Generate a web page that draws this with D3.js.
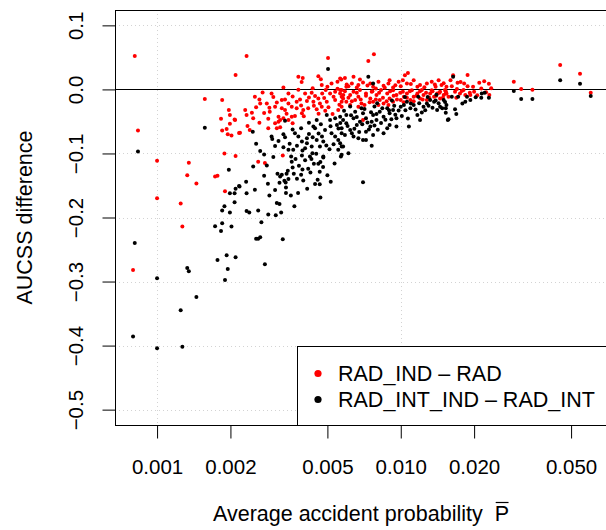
<!DOCTYPE html>
<html>
<head>
<meta charset="utf-8">
<script src="https://cdn.jsdelivr.net/npm/d3@7"></script>
<style>
  body { margin: 0; background: #fff; }
  svg { display: block; font-family: "Liberation Sans", Arial, sans-serif; }
</style>
</head>
<body>
<div id="chart"></div>
<script>
// average accident probability (x) and AUCSS difference (y)
var redPoints = [
  [0.81e-3,0.052],[2.1e-3,0.0227],[1.57e-3,-0.015],[1.85e-3,-0.0166],[1.97e-3,-0.032],[1.99e-3,-0.040],[1.83e-3,-0.046],[2.08e-3,-0.047],
  [1.99e-3,-0.0535],[1.85e-3,-0.064],[1.93e-3,-0.062],[1.95e-3,-0.070],[2.02e-3,-0.072],[2.17e-3,-0.068],[0.835e-3,-0.064],[1.89e-3,-0.10],
  [2.1e-3,-0.104],[1.0e-3,-0.1115],[1.35e-3,-0.1146],[1.33e-3,-0.134],[1.73e-3,-0.136],[1.77e-3,-0.135],[1.45e-3,-0.147],[1.9e-3,-0.159],
  [1.0e-3,-0.170],[1.25e-3,-0.178],[1.27e-3,-0.214],[0.797e-3,-0.282],
  [2.33e-3,0.052],[5.03e-3,0.049],[3.8e-3,0.0196],[3.96e-3,0.018],[3.92e-3,0.0114],[4.59e-3,0.0207],[4.7e-3,0.016],[4.74e-3,0.007],
  [5.2e-3,0.0093],[5.5e-3,0.0118],[5.7e-3,0.0156],
  [2.71e-3,-0.0047],[2.95e-3,-0.0062],[3.46e-3,-0.0062],[2.52e-3,-0.0115],[2.63e-3,-0.0156],[2.65e-3,-0.0218],[2.82e-3,-0.0218],[2.89e-3,-0.0286],
  [3.05e-3,-0.027],[3.25e-3,-0.0166],[3.35e-3,-0.0156],[3.46e-3,-0.0218],[3.74e-3,-0.0193],[3.86e-3,-0.0156],[4.05e-3,-0.0062],[4.31e-3,-0.0053],
  [4.45e-3,-0.0104],[4.59e-3,-0.014],[4.76e-3,-0.0062],[4.92e-3,-0.001],[5.13e-3,-0.0062],[5.38e-3,-0.0037],[5.64e-3,-0.001],[5.81e-3,-0.0089],
  [4.12e-3,-0.018],[4.38e-3,-0.0193],[4.66e-3,-0.0218],[4.97e-3,-0.0193],[5.38e-3,-0.0166],[5.72e-3,-0.0193],[3.25e-3,-0.0296],[3.35e-3,-0.0322],
  [3.57e-3,-0.027],[3.74e-3,-0.0296],[3.98e-3,-0.0322],[4.17e-3,-0.0296],[4.52e-3,-0.0311],[4.74e-3,-0.027],[2.3e-3,-0.0322],[2.45e-3,-0.0364],
  [2.33e-3,-0.040],[2.48e-3,-0.045],[2.86e-3,-0.046],[3.15e-3,-0.0426],[3.2e-3,-0.0477],[3.3e-3,-0.045],[3.46e-3,-0.0477],[3.57e-3,-0.0426],
  [3.68e-3,-0.0415],[3.93e-3,-0.0373],[2.86e-3,-0.0607],[3.05e-3,-0.0529],[3.1e-3,-0.0607],[3.2e-3,-0.059],[3.15e-3,-0.0504],[2.4e-3,-0.0633],
  [2.19e-3,-0.0675],[2.63e-3,-0.052],[2.09e-3,-0.0477],[5.54e-3,-0.0322],[5.72e-3,-0.027],[3.28e-3,-0.103],[2.6e-3,-0.113],[2.77e-3,-0.115],
  [7.36e-3,0.0445],[7.76e-3,0.0549],[5.64e-3,0.0171],[5.9e-3,0.018],[6.4e-3,0.0196],[6.8e-3,0.0156],[6.3e-3,0.0093],[6.1e-3,0.0051],
  [7.0e-3,0.0109],[6.7e-3,0.0067],[7.5e-3,0.0093],[8.1e-3,0.0118],[9.0e-3,0.0145],[8.9e-3,0.0093],[8.5e-3,0.0056],[9.8e-3,0.0118],
  [10.4e-3,0.0222],[10.7e-3,0.0258],[10.2e-3,0.0145],[10.6e-3,0.0093],[11.3e-3,0.0145],[12.0e-3,0.0067],[12.8e-3,0.0093],[13.4e-3,0.0118],
  [14.3e-3,0.0145],[14.7e-3,0.0067],[15.4e-3,0.004],
  [5.64e-3,-0.0062],[5.8e-3,-0.014],[5.98e-3,-0.0193],[6.2e-3,-0.0089],[6.5e-3,-0.0166],[6.7e-3,-0.0115],[6.9e-3,-0.0218],[7.2e-3,-0.0062],
  [7.5e-3,-0.014],[7.7e-3,-0.0193],[7.95e-3,-0.0089],[8.2e-3,-0.0166],[8.5e-3,-0.0218],[8.8e-3,-0.0062],[9.0e-3,-0.014],[9.3e-3,-0.0193],
  [9.6e-3,-0.0089],[10e-3,-0.0166],[10.3e-3,-0.0115],[10.6e-3,-0.0062],[10.95e-3,-0.0166],[11.3e-3,-0.0115],[11.7e-3,-0.0062],[12e-3,-0.014],
  [12.4e-3,-0.0089],[12.8e-3,-0.0166],[13.2e-3,-0.0062],[13.7e-3,-0.0115],[14.1e-3,-0.0062],[14.5e-3,-0.014],[15e-3,-0.0089],[15.4e-3,-0.0062],
  [7.1e-3,-0.0244],[8.1e-3,-0.0244],[8.9e-3,-0.0244],[6.7e-3,-0.027],[6.2e-3,-0.0244],[7.0e-3,-0.0477],
  [5.72e-3,-0.001],[6.4e-3,-0.0037],[6.8e-3,-0.001],[7.6e-3,-0.0037],[8.3e-3,-0.001],[9.3e-3,-0.0015],[10.2e-3,-0.0037],[11.1e-3,-0.0015],
  [12.2e-3,-0.001],[13.4e-3,-0.0015],[14.5e-3,-0.0037],[5.98e-3,0.004],[6.6e-3,0.003],[7.7e-3,0.004],[9.3e-3,0.003],[11.7e-3,0.004],[13.9e-3,0.004],
  [45.1e-3,0.0383],[54.4e-3,0.0243],[60.2e-3,-0.0053],[29.1e-3,0.0118],[31.2e-3,0.0005],[34.7e-3,-0.0006],
  [16.4e-3,0.0222],[18.8e-3,0.0227],[22.0e-3,0.0129],[23.0e-3,0.0087],[16.2e-3,0.0051],[17.1e-3,0.0103],[17.6e-3,0.0114],[18.2e-3,0.0093],
  [18.8e-3,0.0051],[21.4e-3,0.0016],[16.7e-3,-0.0037],[17.5e-3,-0.0062],[18.1e-3,-0.001],[19.2e-3,-0.0053],[20.0e-3,-0.0037],[15.3e-3,-0.0062],
  [15.7e-3,-0.0115],[16.9e-3,-0.013],[23.1e-3,-0.0089],[15.2e-3,-0.001],[18.4e-3,-0.0089],[19.3e-3,-0.0089],
  [5.72e-3,-0.0115],[5.9e-3,-0.0028],[6.1e-3,-0.0132],[6.3e-3,-0.0183],[6.6e-3,-0.0053],[6.85e-3,-0.0157],[7.2e-3,-0.0098],[7.45e-3,-0.0201],
  [7.65e-3,-0.0028],[7.9e-3,-0.0157],[8.15e-3,-0.0053],[8.45e-3,-0.0132],[8.75e-3,-0.0183],[9.05e-3,-0.0028],[9.35e-3,-0.0098],[9.65e-3,-0.0157],
  [9.95e-3,-0.0053],[10.3e-3,-0.0201],[10.6e-3,-0.0132],[10.9e-3,-0.0028],[11.3e-3,-0.0183],[11.6e-3,-0.0098],[12.0e-3,-0.0028],[12.3e-3,-0.0157],
  [12.7e-3,-0.0053],[13.1e-3,-0.0132],[13.5e-3,-0.0028],[14.0e-3,-0.0098],[14.4e-3,-0.0053],[14.9e-3,-0.0132],[15.3e-3,-0.0028],
  [6.0e-3,0.0075],[7.3e-3,0.006],[8.6e-3,0.0025],[10.0e-3,0.005],[11.0e-3,0.0085],[12.5e-3,0.0035],[13.8e-3,0.0075],[15.0e-3,0.0095],
  [9.5e-3,0.0065],[7.9e-3,0.0015],
  [3.0e-3,-0.012],[3.6e-3,-0.011],[4.2e-3,-0.0125],[4.85e-3,-0.0135],[5.3e-3,-0.0115],[3.1e-3,-0.0205],[3.9e-3,-0.025],[4.4e-3,-0.0255],
  [5.05e-3,-0.028],[5.6e-3,-0.024],[3.4e-3,-0.038],[4.0e-3,-0.042],[4.6e-3,-0.038],[2.75e-3,-0.037],[3.8e-3,-0.0005],[4.35e-3,0.002],
  [5.0e-3,0.004],[5.5e-3,0.001],[3.3e-3,0.003],[2.9e-3,-0.035],[2.55e-3,-0.028],[4.9e-3,-0.0335],[5.25e-3,-0.0385],[3.6e-3,-0.053],[2.35e-3,-0.057],
  [16.0e-3,0.0145],[17.8e-3,-0.0025],[19.8e-3,0.004],[21.0e-3,0.0105],[20.6e-3,-0.009],[22.4e-3,-0.0045],[17.0e-3,0.0005],[23.5e-3,0.002]
];

var blackPoints = [
  [1.57e-3,-0.060],[0.835e-3,-0.097],[1.97e-3,-0.1255],[2.17e-3,-0.151],[2.1e-3,-0.155],[1.99e-3,-0.162],[2.08e-3,-0.162],[2.08e-3,-0.176],
  [1.89e-3,-0.1826],[1.85e-3,-0.189],[1.99e-3,-0.192],[1.73e-3,-0.2136],[1.85e-3,-0.209],[2.02e-3,-0.214],[1.83e-3,-0.221],[0.81e-3,-0.240],
  [1.93e-3,-0.259],[1.77e-3,-0.2665],[2.1e-3,-0.262],[1.33e-3,-0.279],[1.35e-3,-0.284],[1.0e-3,-0.295],[1.95e-3,-0.2805],[1.9e-3,-0.2977],
  [1.45e-3,-0.324],[1.25e-3,-0.345],[0.797e-3,-0.386],[1.0e-3,-0.404],[1.27e-3,-0.402],
  [5.03e-3,0.032],[3.35e-3,-0.049],[2.47e-3,-0.066],[2.95e-3,-0.0737],[2.97e-3,-0.0773],[3.35e-3,-0.0746],[3.3e-3,-0.070],[3.68e-3,-0.0684],
  [3.8e-3,-0.0737],[3.93e-3,-0.0815],[4.12e-3,-0.0762],[4.45e-3,-0.0607],[4.52e-3,-0.0477],[4.89e-3,-0.0633],[4.97e-3,-0.040],[5.13e-3,-0.0477],
  [5.38e-3,-0.045],[5.47e-3,-0.0555],[5.2e-3,-0.0684],[5.38e-3,-0.0737],[5.54e-3,-0.0788],[5.72e-3,-0.0684],[4.81e-3,-0.0815],[4.66e-3,-0.0893],
  [4.52e-3,-0.0788],[4.31e-3,-0.0893],[4.05e-3,-0.0918],[3.62e-3,-0.0944],[3.46e-3,-0.0944],[2.65e-3,-0.096],[4.12e-3,-0.084],[4.24e-3,-0.1048],
  [4.81e-3,-0.1048],[5.54e-3,-0.0944],[5.72e-3,-0.0893],[4.38e-3,-0.058],
  [3.55e-3,-0.1048],[3.93e-3,-0.1033],[4.34e-3,-0.0995],[4.5e-3,-0.1006],[4.81e-3,-0.1064],[5.68e-3,-0.1048],[3.57e-3,-0.113],[2.48e-3,-0.1204],
  [2.82e-3,-0.1188],[3.6e-3,-0.1219],[3.82e-3,-0.1193],[4.4e-3,-0.1162],[4.59e-3,-0.1162],[4.68e-3,-0.1135],[3.12e-3,-0.1317],[3.25e-3,-0.1333],
  [3.2e-3,-0.136],[3.44e-3,-0.127],[3.4e-3,-0.1317],[3.64e-3,-0.1317],[3.9e-3,-0.1333],[4.17e-3,-0.124],[4.26e-3,-0.1297],[4.65e-3,-0.1286],
  [4.56e-3,-0.141],[4.45e-3,-0.1477],[4.65e-3,-0.148],[5.16e-3,-0.144],[3.46e-3,-0.14],[3.33e-3,-0.1426],[3.37e-3,-0.1452],[3.18e-3,-0.1457],
  [3.75e-3,-0.1395],[3.98e-3,-0.1421],[2.32e-3,-0.144],[2.18e-3,-0.1515],[2.85e-3,-0.1473],[2.52e-3,-0.1566],[4.13e-3,-0.155],[3.38e-3,-0.153],
  [3.54e-3,-0.1655],[3.79e-3,-0.1617],[3.38e-3,-0.1617],[2.33e-3,-0.1623],[2.89e-3,-0.1655],[4.68e-3,-0.1686],[3.1e-3,-0.1773],[3.18e-3,-0.1788],
  [3.66e-3,-0.1826],[2.33e-3,-0.19],[2.39e-3,-0.192],[2.6e-3,-0.189],[2.86e-3,-0.1955],[3.07e-3,-0.1966],[3.23e-3,-0.192],[2.68e-3,-0.2074],
  [2.55e-3,-0.233],[2.65e-3,-0.231],[2.6e-3,-0.233],[3.28e-3,-0.234],[2.77e-3,-0.273],
  [7.36e-3,0.0196],[7.7e-3,0.0093],[7.0e-3,-0.145],
  [5.64e-3,-0.0426],[5.8e-3,-0.0477],[5.98e-3,-0.040],[5.72e-3,-0.0607],[5.98e-3,-0.0529],[6.2e-3,-0.0633],[6.4e-3,-0.045],[6.6e-3,-0.0555],
  [6.5e-3,-0.0348],[6.8e-3,-0.0504],[7.0e-3,-0.0373],[7.2e-3,-0.045],[7.5e-3,-0.058],[7.7e-3,-0.040],[7.6e-3,-0.0504],[7.95e-3,-0.0477],
  [8.2e-3,-0.0348],[8.5e-3,-0.0426],[8.8e-3,-0.0296],[9.0e-3,-0.0373],[9.3e-3,-0.0322],[9.6e-3,-0.045],[10e-3,-0.027],[10.3e-3,-0.0244],
  [10.6e-3,-0.0193],[10.95e-3,-0.0296],[11.3e-3,-0.0244],[11.7e-3,-0.040],[12e-3,-0.0477],[12.4e-3,-0.027],[12.8e-3,-0.0218],[13.2e-3,-0.0166],
  [13.7e-3,-0.0193],[14.1e-3,-0.0322],[14.5e-3,-0.027],[15e-3,-0.0166],[15.4e-3,-0.0244],[15.6e-3,-0.0477],[5.9e-3,-0.071],[6.3e-3,-0.0684],
  [6.7e-3,-0.0762],[7.2e-3,-0.066],[7.7e-3,-0.071],[8.5e-3,-0.0684],[9.0e-3,-0.0555],[9.6e-3,-0.058],[10.8e-3,-0.058],[5.64e-3,-0.084],
  [5.8e-3,-0.0893],[5.72e-3,-0.102],[6.1e-3,-0.0995],[7.6e-3,-0.088],[7.0e-3,-0.0788],[7.2e-3,-0.0788],[6.4e-3,-0.0737],
  [45.1e-3,0.0145],[54.4e-3,0.0087],[60.2e-3,-0.0104],[29.1e-3,-0.0026],[31.2e-3,-0.0151],[34.7e-3,-0.0151],
  [16.4e-3,0.0196],[23.0e-3,-0.013],[21.4e-3,-0.013],[20.3e-3,-0.0124],[19.3e-3,-0.0166],[18.4e-3,-0.0193],[17.9e-3,-0.0218],[15.3e-3,-0.0296],
  [16.7e-3,-0.0311],[16.9e-3,-0.0384],[15.3e-3,-0.0364],[15.7e-3,-0.0467],[22.1e-3,-0.0053],[21.5e-3,-0.0062],[16.2e-3,-0.0115],[17.2e-3,-0.0115],
  [18.7e-3,-0.0115],
  [5.85e-3,-0.0335],[6.05e-3,-0.057],[6.25e-3,-0.0405],[6.45e-3,-0.0615],[6.6e-3,-0.043],[6.75e-3,-0.0665],[6.95e-3,-0.0545],[7.1e-3,-0.0305],
  [7.3e-3,-0.0515],[7.4e-3,-0.0625],[7.55e-3,-0.0355],[7.8e-3,-0.0565],[7.95e-3,-0.0385],[8.05e-3,-0.063],[8.3e-3,-0.0525],[8.4e-3,-0.0295],
  [8.65e-3,-0.0475],[8.8e-3,-0.0605],[8.95e-3,-0.0325],[9.15e-3,-0.0465],[9.4e-3,-0.0255],[9.5e-3,-0.0395],[9.8e-3,-0.033],[10.1e-3,-0.0415],
  [10.45e-3,-0.0325],[10.7e-3,-0.0455],[11.0e-3,-0.022],[11.5e-3,-0.0315],[11.9e-3,-0.0215],[12.2e-3,-0.036],[12.6e-3,-0.0325],[13.0e-3,-0.0255],
  [13.5e-3,-0.0285],[13.9e-3,-0.0175],[14.3e-3,-0.0215],[14.8e-3,-0.0295],[15.2e-3,-0.0195],[8.0e-3,-0.0215],[9.2e-3,-0.0175],[10.4e-3,-0.012],
  [11.8e-3,-0.0115],[12.9e-3,-0.012],[14.0e-3,-0.0085],[6.2e-3,-0.0265],[6.9e-3,-0.0295],[7.8e-3,-0.0265],
  [3.5e-3,-0.085],[3.75e-3,-0.088],[3.95e-3,-0.0955],[4.2e-3,-0.0695],[4.35e-3,-0.0745],[4.6e-3,-0.069],[4.75e-3,-0.0735],[4.95e-3,-0.0875],
  [5.1e-3,-0.0935],[5.3e-3,-0.0855],[5.55e-3,-0.061],[5.65e-3,-0.0525],[5.15e-3,-0.0575],[4.7e-3,-0.0545],[4.2e-3,-0.052],[3.9e-3,-0.0605],
  [3.6e-3,-0.0625],[3.15e-3,-0.0805],[3.05e-3,-0.0885],[3.3e-3,-0.0905],[4.05e-3,-0.1105],[4.3e-3,-0.1085],[3.7e-3,-0.1085],[3.0e-3,-0.1055],
  [2.75e-3,-0.1015],[2.55e-3,-0.085],[3.95e-3,-0.125],[4.8e-3,-0.121],[5.35e-3,-0.1155],[5.0e-3,-0.134],[3.05e-3,-0.157],[2.75e-3,-0.135]
];

var xTicks = [0.001, 0.002, 0.005, 0.01, 0.02, 0.05];
var yTicks = [0.1, 0.0, -0.1, -0.2, -0.3, -0.4, -0.5];
var xGrid = [0.001, 0.01];
var legendLabels = ["RAD_IND \u2013 RAD", "RAD_INT_IND \u2013 RAD_INT"];
var legendColors = ["#ff0000", "#000000"];

var W = 606, H = 530;
var pLeft = 115, pTop = 10, pRight = 607, pBottom = 425;

var svg = d3.select("#chart").append("svg")
  .attr("width", W)
  .attr("height", H);

var x = d3.scaleLog().domain([0.000672, 0.0702]).range([pLeft, pRight]);
var y = d3.scaleLinear().domain([-0.524, 0.124]).range([pBottom, pTop]);

// grid (dotted light grey)
svg.append("g").selectAll("line").data(yTicks.filter(function(d){ return d != 0; }))
  .enter().append("line")
  .attr("x1", pLeft).attr("x2", pRight)
  .attr("y1", function(d){ return Math.round(y(d)) + 0.5; })
  .attr("y2", function(d){ return Math.round(y(d)) + 0.5; })
  .attr("stroke", "#d3d3d3").attr("stroke-dasharray", "1 3");
svg.append("g").selectAll("line").data(xGrid)
  .enter().append("line")
  .attr("x1", function(d){ return Math.round(x(d)) + 0.5; })
  .attr("x2", function(d){ return Math.round(x(d)) + 0.5; })
  .attr("y1", pTop).attr("y2", pBottom)
  .attr("stroke", "#d3d3d3").attr("stroke-dasharray", "1 3");

// zero line
svg.append("line")
  .attr("x1", pLeft).attr("x2", pRight)
  .attr("y1", Math.round(y(0)) + 0.5).attr("y2", Math.round(y(0)) + 0.5)
  .attr("stroke", "black").attr("stroke-width", 1.2);

// points
svg.append("g").selectAll("circle").data(redPoints)
  .enter().append("circle")
  .attr("cx", function(d){ return x(d[0]); })
  .attr("cy", function(d){ return y(d[1]); })
  .attr("r", 2)
  .attr("fill", "#ff0000");
svg.append("g").selectAll("circle").data(blackPoints)
  .enter().append("circle")
  .attr("cx", function(d){ return x(d[0]); })
  .attr("cy", function(d){ return y(d[1]); })
  .attr("r", 2)
  .attr("fill", "#000000");

// box
svg.append("rect")
  .attr("x", pLeft + 0.5).attr("y", pTop + 0.5)
  .attr("width", pRight - pLeft).attr("height", pBottom - pTop)
  .attr("fill", "none").attr("stroke", "black");

// axes
var xAxis = svg.append("g")
  .attr("transform", "translate(0," + (pBottom + 0.5) + ")")
  .call(d3.axisBottom(x).tickValues(xTicks).tickFormat(d3.format(".3f"))
    .tickSize(13).tickSizeOuter(0).tickPadding(21));
xAxis.select(".domain").remove();
xAxis.selectAll("text").attr("font-size", 20.5).attr("fill", "black")
  .attr("font-family", "Liberation Sans, Arial, sans-serif");
xAxis.selectAll("line").attr("stroke", "black");

var yAxis = svg.append("g")
  .attr("transform", "translate(" + (pLeft + 0.5) + ",0)")
  .call(d3.axisLeft(y).tickValues(yTicks)
    .tickFormat(function(d){ return d3.format(".1f")(d).replace("-", "\u2212"); })
    .tickSize(13).tickSizeOuter(0));
yAxis.select(".domain").remove();
yAxis.selectAll("line").attr("stroke", "black");
yAxis.selectAll("text")
  .attr("x", null).attr("dy", null)
  .attr("text-anchor", "middle")
  .attr("transform", "translate(-33,0) rotate(-90)")
  .attr("font-size", 20.5).attr("fill", "black")
  .attr("font-family", "Liberation Sans, Arial, sans-serif");

// axis titles
svg.append("text")
  .attr("transform", "translate(32," + ((pTop + pBottom) / 2) + ") rotate(-90)")
  .attr("text-anchor", "middle")
  .attr("font-size", 21.5)
  .text("AUCSS difference");

var xt = svg.append("text")
  .attr("y", 520.5)
  .attr("font-size", 21.5)
  .text("Average accident probability");
var pt = svg.append("text")
  .attr("y", 520.5)
  .attr("font-size", 21.5)
  .text("P");
var w1 = xt.node().getComputedTextLength();
var wp = pt.node().getComputedTextLength();
var gap = 12;
var x0 = (pLeft + pRight) / 2 - (w1 + gap + wp) / 2;
xt.attr("x", x0);
pt.attr("x", x0 + w1 + gap);
svg.append("line")
  .attr("x1", x0 + w1 + gap + 1).attr("x2", x0 + w1 + gap + wp - 0.5)
  .attr("y1", 502.5).attr("y2", 502.5)
  .attr("stroke", "black").attr("stroke-width", 1.2);

// legend
svg.append("rect")
  .attr("x", 297.5).attr("y", 346.5)
  .attr("width", 330).attr("height", pBottom - 346)
  .attr("fill", "white").attr("stroke", "black");
var lg = svg.append("g").selectAll("g").data(legendLabels).enter().append("g")
  .attr("transform", function(d, i){ return "translate(0," + (373.5 + i * 26) + ")"; });
lg.append("circle")
  .attr("cx", 318).attr("cy", 0).attr("r", 3.6)
  .attr("fill", function(d, i){ return legendColors[i]; });
lg.append("text")
  .attr("x", 338).attr("y", 7.3)
  .attr("font-size", 21.5)
  .text(function(d){ return d; });
</script>
</body>
</html>
